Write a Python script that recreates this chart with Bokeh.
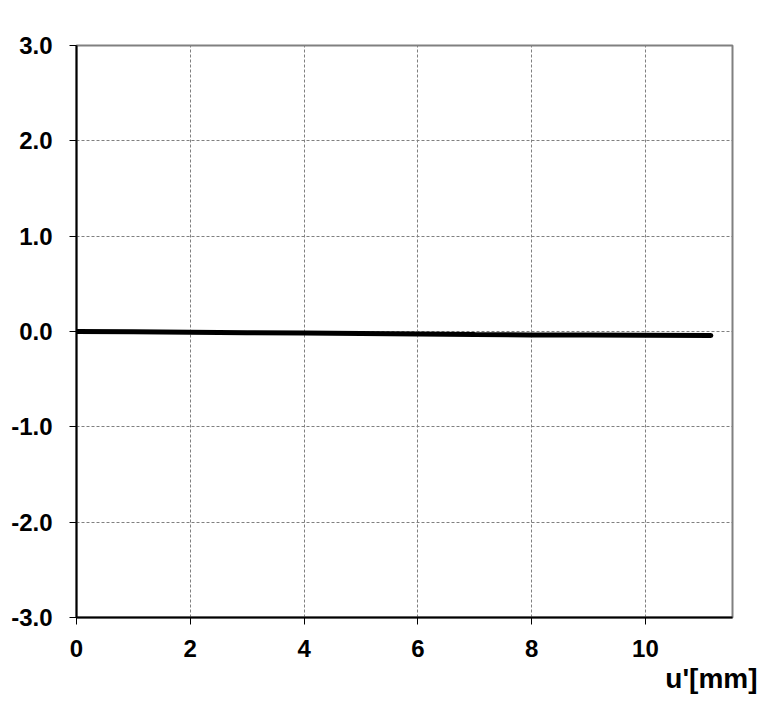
from bokeh.plotting import figure
from bokeh.models import FixedTicker, NumeralTickFormatter, Range1d, Title
from bokeh.embed import file_html
from bokeh.resources import INLINE

# data
u_mm = [0.0, 1.0, 2.0, 3.0, 4.0, 5.0, 6.0, 7.0, 8.0, 9.0, 10.0, 11.15]
values = [0.0, -0.003, -0.007, -0.012, -0.017, -0.022, -0.027, -0.032, -0.036, -0.038, -0.040, -0.042]
x_ticks = [0, 2, 4, 6, 8, 10]
y_ticks = [-3.0, -2.0, -1.0, 0.0, 1.0, 2.0, 3.0]
x_label = "u'[mm]"

p = figure(width=769, height=705, output_backend="svg", toolbar_location=None,
           x_range=Range1d(0, 11.53), y_range=Range1d(-3.0, 3.0))
p.min_border_left = 76
p.min_border_right = 37
p.min_border_top = 45
p.min_border_bottom = 88
p.background_fill_color = "white"
p.border_fill_color = "white"
p.outline_line_color = "#808080"
p.outline_line_width = 2

p.line(u_mm, values, line_color="black", line_width=5, line_cap="round")

for ax in (p.xaxis, p.yaxis):
    ax.major_label_text_font = "Liberation Sans"
    ax.major_label_text_font_style = "bold"
    ax.major_label_text_font_size = "24px"
    ax.major_label_text_color = "black"
    ax.axis_line_color = "black"
    ax.axis_line_width = 2
    ax.major_tick_line_color = "black"
    ax.major_tick_line_width = 1
    ax.major_tick_out = 7
    ax.major_tick_in = 0
    ax.minor_tick_line_color = None

p.xaxis.ticker = FixedTicker(ticks=x_ticks)
p.yaxis.ticker = FixedTicker(ticks=y_ticks)
p.yaxis.formatter = NumeralTickFormatter(format="0.0")
p.xaxis.major_label_standoff = 15
p.yaxis.major_label_standoff = 17

p.xgrid.ticker = FixedTicker(ticks=x_ticks)
p.ygrid.ticker = FixedTicker(ticks=y_ticks)
for g in (p.xgrid, p.ygrid):
    g.grid_line_color = "#808080"
    g.grid_line_dash = "3 2"
    g.grid_line_width = 1

t = Title(text=x_label, align="right", offset=-25, standoff=2,
          text_font="Liberation Sans", text_font_style="bold",
          text_font_size="28px", text_color="black")
p.add_layout(t, "below")

open("out.html", "w").write(file_html(p, INLINE))
